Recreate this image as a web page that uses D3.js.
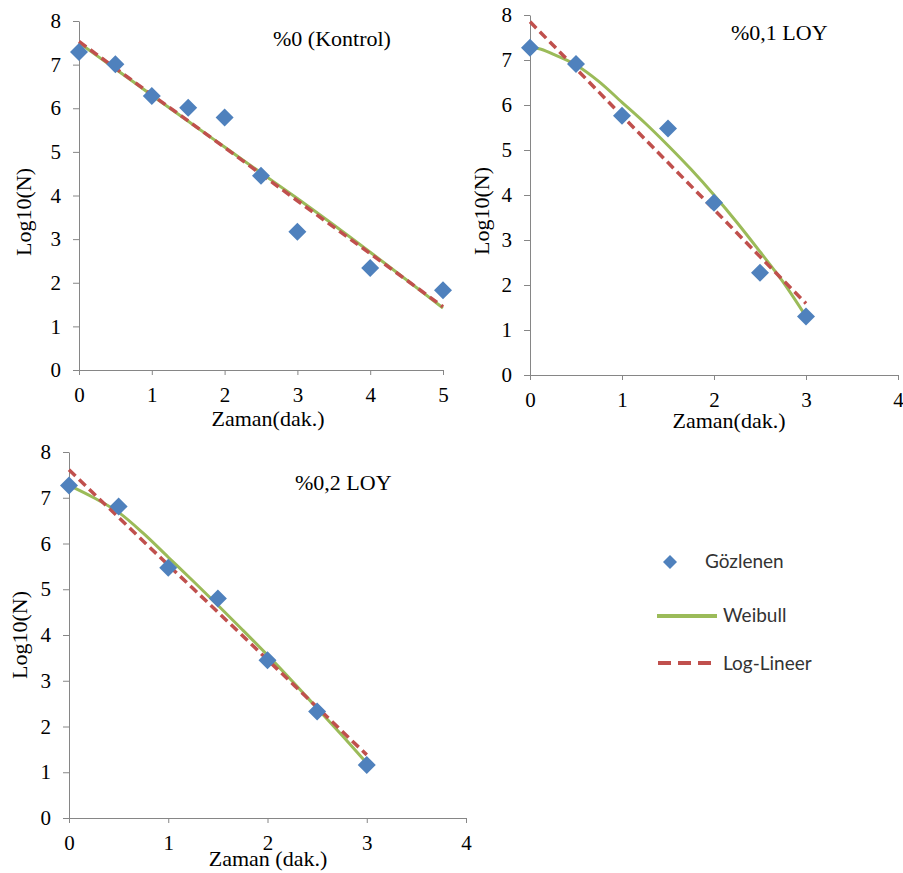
<!DOCTYPE html>
<html>
<head>
<meta charset="utf-8">
<script src="https://d3js.org/d3.v7.min.js"></script>
<style>
  body { margin: 0; background: #fff; }
  .axis path, .axis line { stroke: #868686; }
  .lbl { font-family: "Liberation Serif", serif; font-size: 22px; fill: #000; }
  .leg { font-family: Lato, sans-serif; font-size: 19px; fill: #333; }
</style>
</head>
<body>
<svg id="chart" width="903" height="873"></svg>
<script>
const obsT1 = [0, 0.5, 1, 1.5, 2, 2.5, 3, 4, 5];
const obs1 = [7.29, 7.01, 6.28, 6.01, 5.79, 4.45, 3.17, 2.34, 1.83];
const fitT1 = [0, 0.5, 1, 1.5, 2, 2.5, 3, 4, 5];
const weib1 = [7.50, 6.90, 6.30, 5.70, 5.11, 4.52, 3.93, 2.70, 1.42];
const lin1 = [7.53, 6.92, 6.31, 5.71, 5.10, 4.49, 3.88, 2.67, 1.45];

const obsT2 = [0, 0.5, 1, 1.5, 2, 2.5, 3];
const obs2 = [7.27, 6.91, 5.76, 5.48, 3.83, 2.27, 1.30];
const fitT2 = [0, 0.1, 0.25, 0.5, 0.75, 1, 1.25, 1.5, 1.75, 2, 2.25, 2.5, 2.75, 3];
const weib2 = [7.27, 7.25, 7.13, 6.89, 6.52, 6.06, 5.60, 5.10, 4.57, 4.00, 3.39, 2.74, 2.07, 1.30];
const linT2 = [0, 0.5, 1, 1.5, 2, 2.5, 3];
const lin2 = [7.85, 6.81, 5.76, 4.72, 3.68, 2.63, 1.59];

const obsT3 = [0, 0.5, 1, 1.5, 2, 2.5, 3];
const obs3 = [7.27, 6.81, 5.47, 4.80, 3.45, 2.33, 1.16];
const fitT3 = [0, 0.25, 0.5, 0.75, 1, 1.25, 1.5, 1.75, 2, 2.25, 2.5, 2.75, 3];
const weib3 = [7.27, 7.00, 6.68, 6.22, 5.70, 5.18, 4.65, 4.11, 3.56, 2.99, 2.40, 1.81, 1.20];
const linT3 = [0, 0.5, 1, 1.5, 2, 2.5, 3];
const lin3 = [7.61, 6.57, 5.53, 4.50, 3.46, 2.42, 1.38];

const titles = ["%0 (Kontrol)", "%0,1 LOY", "%0,2 LOY"];
const xTitles = ["Zaman(dak.)", "Zaman(dak.)", "Zaman (dak.)"];
const legendNames = ["Gözlenen", "Weibull", "Log-Lineer"];

const blue = "#4f81bd", green = "#9bbb59", red = "#c0504d";

const svg = d3.select("#chart");
const diamond = "M0,-9L9,0L0,9L-9,0Z";

const panels = [
  {xr: [79, 443], yr: [370, 21], xmax: 5, obsT: obsT1, obs: obs1, wT: fitT1, w: weib1, lT: fitT1, l: lin1,
   title: [273, 46], xt: [268, 426], yt: [31, 212]},
  {xr: [530, 898], yr: [375, 15], xmax: 4, obsT: obsT2, obs: obs2, wT: fitT2, w: weib2, lT: linT2, l: lin2,
   title: [731, 40], xt: [729, 428], yt: [489, 211]},
  {xr: [69, 466], yr: [818, 452], xmax: 4, obsT: obsT3, obs: obs3, wT: fitT3, w: weib3, lT: linT3, l: lin3,
   title: [295, 490], xt: [268, 866], yt: [27, 635]}
];

panels.forEach((p, i) => {
  const x = d3.scaleLinear().domain([0, p.xmax]).range(p.xr);
  const y = d3.scaleLinear().domain([0, 8]).range(p.yr);
  const g = svg.append("g");

  const ax = g.append("g").attr("class", "axis")
    .attr("transform", `translate(0,${p.yr[0]})`)
    .call(d3.axisBottom(x).ticks(p.xmax).tickSize(5).tickSizeOuter(0).tickPadding(12));
  const ay = g.append("g").attr("class", "axis")
    .attr("transform", `translate(${p.xr[0]},0)`)
    .call(d3.axisLeft(y).ticks(8).tickSize(6).tickSizeOuter(0).tickPadding(12));
  [ax, ay].forEach(a => a.attr("font-family", "Liberation Serif, serif").attr("font-size", 21)
    .selectAll("text").attr("fill", "#000"));

  const line = d3.line().curve(d3.curveMonotoneX);
  g.append("path")
    .attr("d", line(p.wT.map((t, k) => [x(t), y(p.w[k])])))
    .attr("fill", "none").attr("stroke", green).attr("stroke-width", 3);
  g.append("path")
    .attr("d", line(p.lT.map((t, k) => [x(t), y(p.l[k])])))
    .attr("fill", "none").attr("stroke", red).attr("stroke-width", 3.5)
    .attr("stroke-dasharray", "9,5");

  g.selectAll(".pt").data(p.obsT).enter().append("path")
    .attr("d", diamond)
    .attr("transform", (t, k) => `translate(${x(t)},${y(p.obs[k])})`)
    .attr("fill", blue);

  g.append("text").attr("class", "lbl")
    .attr("x", p.title[0]).attr("y", p.title[1]).text(titles[i]);
  g.append("text").attr("class", "lbl").attr("text-anchor", "middle")
    .attr("x", p.xt[0]).attr("y", p.xt[1]).text(xTitles[i]);
  g.append("text").attr("class", "lbl").attr("text-anchor", "middle")
    .attr("transform", `translate(${p.yt[0]},${p.yt[1]}) rotate(-90)`)
    .text("Log10(N)");
});

// legend
const leg = svg.append("g");
leg.append("path").attr("d", "M0,-7L7,0L0,7L-7,0Z")
  .attr("transform", "translate(670,562)").attr("fill", blue);
leg.append("line").attr("x1", 657).attr("x2", 717).attr("y1", 616).attr("y2", 616)
  .attr("stroke", green).attr("stroke-width", 4);
leg.append("line").attr("x1", 658).attr("x2", 714).attr("y1", 663).attr("y2", 663)
  .attr("stroke", red).attr("stroke-width", 4).attr("stroke-dasharray", "13,7");
leg.selectAll(".lt").data(legendNames).enter().append("text")
  .attr("class", "leg")
  .attr("x", (d, k) => k === 0 ? 705 : 723)
  .attr("y", (d, k) => [568, 622, 670][k])
  .text(d => d);
</script>
</body>
</html>
